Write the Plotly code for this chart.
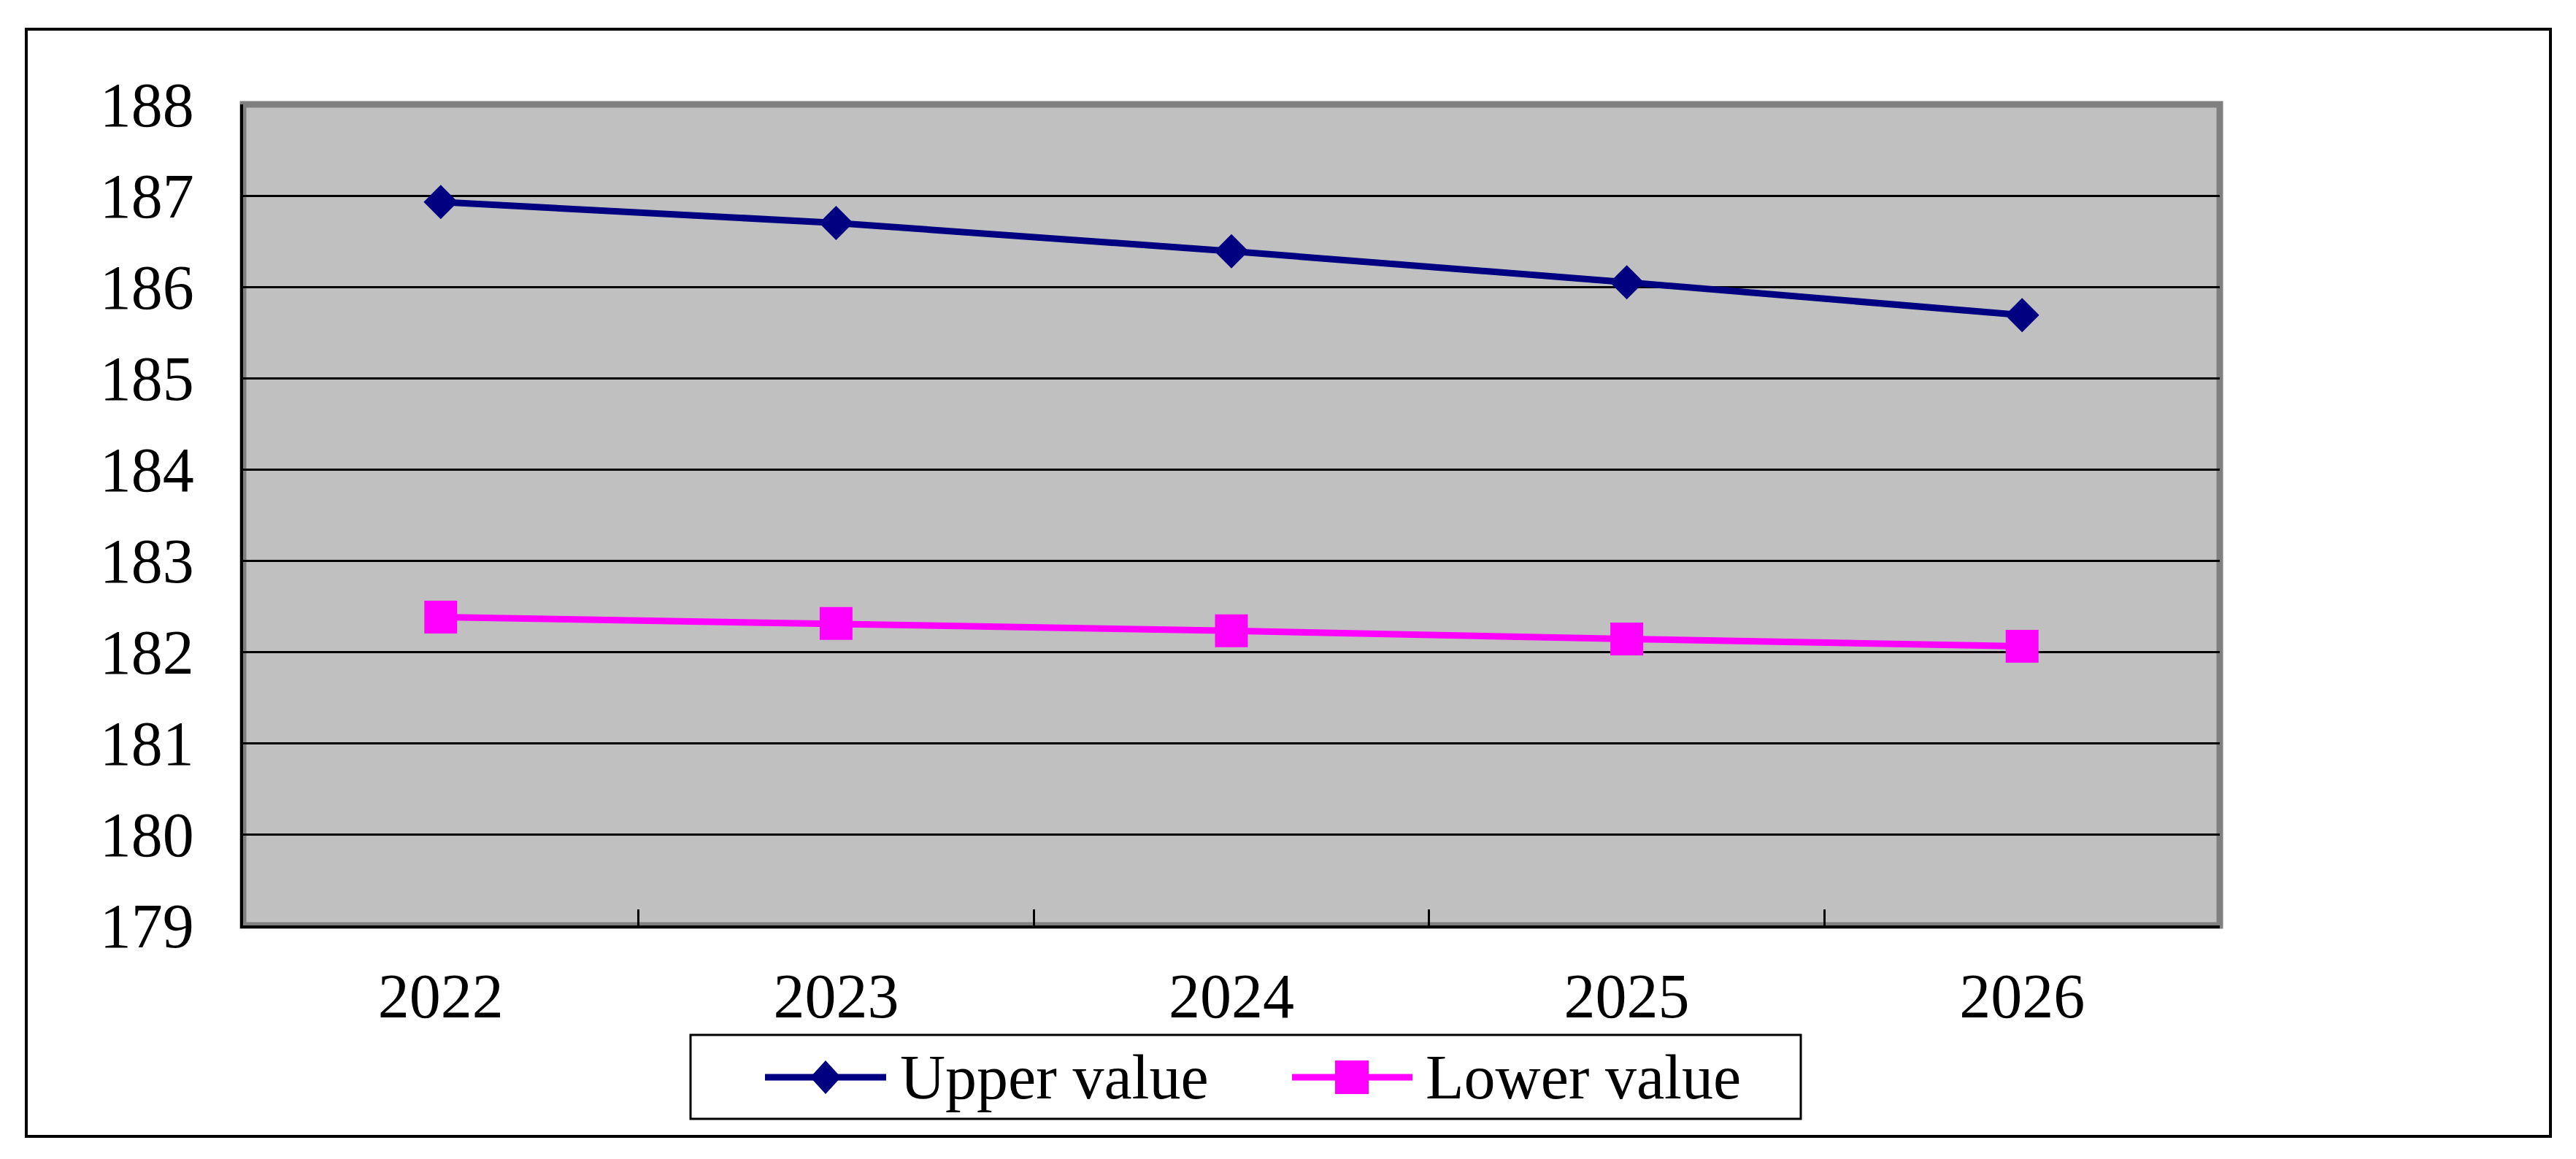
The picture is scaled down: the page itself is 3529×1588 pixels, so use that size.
import plotly.graph_objects as go

# ---- data ----
years = ["2022", "2023", "2024", "2025", "2026"]
upper_value = [186.93, 186.70, 186.39, 186.05, 185.69]
lower_value = [182.38, 182.31, 182.23, 182.14, 182.06]
y_ticks = [179, 180, 181, 182, 183, 184, 185, 186, 187, 188]

# ---- geometry (reference pixel coordinates; page body has an 8px margin) ----
OFF = 8
W, H = 3529 - 2 * OFF, 1588 - 2 * OFF
PLOT_X0, PLOT_X1, PLOT_Y0, PLOT_Y1 = 333, 3041, 143, 1268
L, T = PLOT_X0 - OFF, PLOT_Y0 - OFF
PW, PH = PLOT_X1 - PLOT_X0, PLOT_Y1 - PLOT_Y0
R, B = W - L - PW, H - T - PH

def px(x):
    return (x - OFF - L) / PW

def py(y):
    return (H - B - (y - OFF)) / PH

NAVY = "#000080"
PINK = "#FF00FF"
FONT = "Liberation Serif"

fig = go.Figure()
fig.add_trace(go.Scatter(
    x=years, y=upper_value, name="Upper value", mode="lines+markers",
    line=dict(color=NAVY, width=9),
    marker=dict(symbol="diamond", size=36, color=NAVY),
    showlegend=False,
))
fig.add_trace(go.Scatter(
    x=years, y=lower_value, name="Lower value", mode="lines+markers",
    line=dict(color=PINK, width=9),
    marker=dict(symbol="square", size=45, color=PINK),
    showlegend=False,
))

shapes = []
# outer chart border
shapes.append(dict(type="rect", xref="paper", yref="paper",
                   x0=px(36), x1=px(3494), y0=py(1557), y1=py(40),
                   line=dict(color="black", width=4), fillcolor="rgba(0,0,0,0)",
                   layer="below"))
# plot area fill with gray frame
shapes.append(dict(type="rect", xref="paper", yref="paper",
                   x0=0, x1=1, y0=0, y1=1,
                   line=dict(color="#808080", width=9), fillcolor="#C0C0C0",
                   layer="below"))

# ---- legend (drawn) ----
lg_x0, lg_x1, lg_y0, lg_y1 = 946, 2467, 1418, 1533
shapes.append(dict(type="rect", xref="paper", yref="paper",
                   x0=px(lg_x0), x1=px(lg_x1), y0=py(lg_y1), y1=py(lg_y0),
                   line=dict(color="black", width=3), fillcolor="white"))
cy = 1476
entries = [
    ("Upper value", NAVY, "diamond", 1048, 1214, 1131, 1231),
    ("Lower value", PINK, "square", 1770, 1935, 1852, 1951),
]
annotations = []
for name, col, sym, lx0, lx1, mx, tx in entries:
    shapes.append(dict(type="line", xref="paper", yref="paper",
                       x0=px(lx0), x1=px(lx1), y0=py(cy), y1=py(cy),
                       line=dict(color=col, width=9)))
    if sym == "diamond":
        hw, hh = 21, 23
        path = (f"M{px(mx-hw)},{py(cy)} L{px(mx)},{py(cy-hh)} "
                f"L{px(mx+hw)},{py(cy)} L{px(mx)},{py(cy+hh)} Z")
    else:
        hw, hh = 23, 23
        path = (f"M{px(mx-hw)},{py(cy-hh)} L{px(mx+hw)},{py(cy-hh)} "
                f"L{px(mx+hw)},{py(cy+hh)} L{px(mx-hw)},{py(cy+hh)} Z")
    shapes.append(dict(type="path", xref="paper", yref="paper", path=path,
                       fillcolor=col, line=dict(width=0)))
    annotations.append(dict(xref="paper", yref="paper", x=px(tx), y=py(cy),
                            xanchor="left", yanchor="middle", showarrow=False,
                            text=name, font=dict(family=FONT, size=86, color="black")))

fig.update_layout(
    width=W, height=H,
    margin=dict(l=L, r=R, t=T, b=B, pad=0),
    paper_bgcolor="white",
    plot_bgcolor="rgba(0,0,0,0)",
    shapes=shapes,
    annotations=annotations,
    showlegend=False,
    font=dict(family=FONT, size=86, color="black"),
)
fig.update_xaxes(
    type="category", range=[-0.5, 4.5],
    showgrid=False, zeroline=False,
    showline=True, linecolor="black", linewidth=4,
    ticks="inside", tickson="boundaries", ticklen=22, tickwidth=3, tickcolor="black",
    tickfont=dict(family=FONT, size=86, color="black"),
    ticklabelstandoff=19,
)
fig.update_yaxes(
    range=[179, 188], tickmode="array", tickvals=y_ticks,
    ticktext=[str(v) for v in y_ticks],
    showgrid=True, gridcolor="black", gridwidth=3, zeroline=False,
    showline=True, linecolor="black", linewidth=4,
    ticks="inside", ticklen=22, tickwidth=3, tickcolor="black",
    tickfont=dict(family=FONT, size=86, color="black"),
    ticklabelstandoff=46,
)

fig.write_html("out.html")
